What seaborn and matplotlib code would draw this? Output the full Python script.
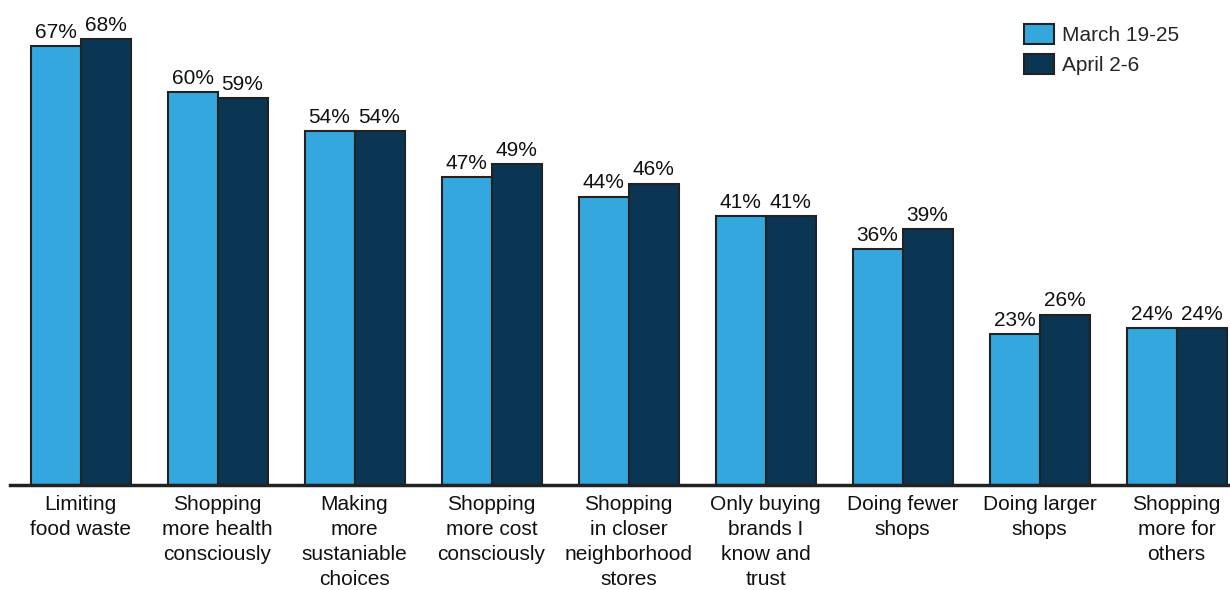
import matplotlib
matplotlib.use("Agg")
import matplotlib.pyplot as plt
import seaborn as sns
import pandas as pd

categories = [
    "Limiting\nfood waste",
    "Shopping\nmore health\nconsciously",
    "Making\nmore\nsustaniable\nchoices",
    "Shopping\nmore cost\nconsciously",
    "Shopping\nin closer\nneighborhood\nstores",
    "Only buying\nbrands I\nknow and\ntrust",
    "Doing fewer\nshops",
    "Doing larger\nshops",
    "Shopping\nmore for\nothers",
]
march = [67, 60, 54, 47, 44, 41, 36, 23, 24]
april = [68, 59, 54, 49, 46, 41, 39, 26, 24]
series = ["March 19-25", "April 2-6"]
colors = ["#35A7DF", "#0A3553"]

df = pd.DataFrame({
    "category": categories * 2,
    "period": [series[0]] * len(categories) + [series[1]] * len(categories),
    "value": march + april,
})

sns.set_theme(style="white")
plt.rcParams["font.family"] = ["Liberation Sans", "DejaVu Sans"]

fig = plt.figure(figsize=(12.3, 5.9), dpi=100)
ax = fig.add_axes([10 / 1230, 105 / 590, 1220 / 1230, 485 / 590])

sns.barplot(data=df, x="category", y="value", hue="period",
            palette=colors, width=0.73, edgecolor="#222222", linewidth=1.5,
            saturation=1, ax=ax)

for cont in ax.containers:
    ax.bar_label(cont, labels=[f"{int(round(b.get_height()))}%" for b in cont],
                 padding=3, fontsize=15, color="#111111")

ax.set_xlim(-0.515, 8.39)
ax.set_ylim(0, 74)
ax.set_xlabel("")
ax.set_ylabel("")
ax.set_yticks([])
for s in ["top", "right", "left"]:
    ax.spines[s].set_visible(False)
ax.spines["bottom"].set_linewidth(2.5)
ax.spines["bottom"].set_color("#222222")
ax.tick_params(axis="x", length=0, pad=7, labelsize=15, colors="#111111")
for lbl in ax.get_xticklabels():
    lbl.set_linespacing(1.4)

leg = ax.legend(loc="upper right", bbox_to_anchor=(0.974, 0.99), frameon=False,
                fontsize=15, handlelength=1.45, handleheight=1.1,
                handletextpad=0.4, labelspacing=0.45)
for h in leg.legend_handles:
    h.set_edgecolor("#222222")
    h.set_linewidth(1.5)

fig.savefig("out.png", dpi=100)
